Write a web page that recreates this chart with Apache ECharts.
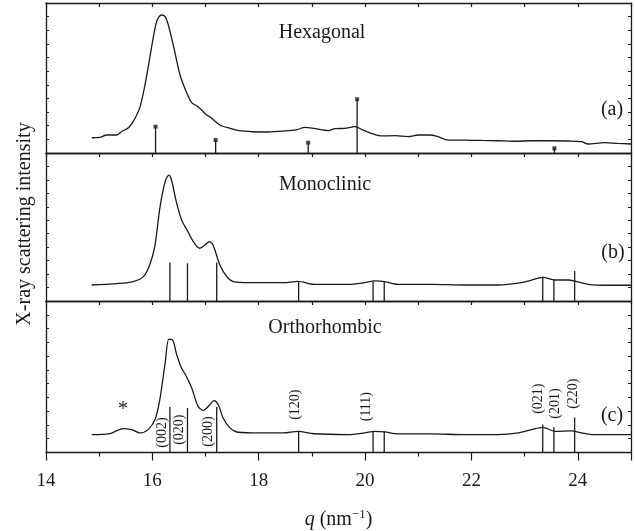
<!DOCTYPE html>
<head>
    <meta charset="utf-8">
    <title>XRD panels</title>
    <script src="https://cdn.jsdelivr.net/npm/echarts@6/dist/echarts.min.js"></script>
</head>
<body style="margin:0">
    <div id="main" style="width:635px;height:531px"></div>
    <script type="text/javascript">
    // measured curves, q in nm^-1, intensity in arbitrary units (0-11 per panel)
    var hexQ = [14.86, 15.02, 15.14, 15.33, 15.42, 15.55, 15.64, 15.77, 15.89, 16.02, 16.09, 16.17, 16.24, 16.30, 16.40,
        16.52, 16.65, 16.74, 16.86, 17.02, 17.08, 17.27, 17.46, 17.64, 17.89, 18.14, 18.45, 18.70, 18.87, 19.06,
        19.31, 19.43, 19.62, 19.81, 19.93, 20.12, 20.31, 20.56, 20.81, 21.00, 21.22, 21.37, 21.56, 21.88, 22.19,
        22.50, 22.82, 23.13, 23.44, 23.82, 24.07, 24.19, 24.50, 24.75, 25.00];
    var hexI = [1.12, 1.15, 1.32, 1.32, 1.56, 1.86, 2.30, 3.40, 5.60, 8.53, 9.75, 10.12, 10.00, 9.39, 7.80,
        5.72, 4.38, 3.69, 3.40, 2.79, 2.66, 2.05, 1.81, 1.64, 1.56, 1.54, 1.61, 1.69, 1.88, 1.78,
        1.64, 1.78, 1.81, 1.93, 1.74, 1.44, 1.25, 1.27, 1.20, 1.32, 1.32, 1.20, 0.95, 0.95, 0.92,
        0.90, 0.86, 0.90, 0.90, 0.88, 0.83, 0.66, 0.76, 0.70, 0.66];

    var monoQ = [14.86, 15.33, 15.64, 15.83, 15.95, 16.05, 16.14, 16.24, 16.31, 16.36, 16.45, 16.55, 16.67, 16.77,
        16.89, 16.99, 17.07, 17.14, 17.27, 17.40, 17.52, 17.83, 18.46, 18.74, 19.04, 19.68, 19.99, 20.18,
        20.37, 20.62, 21.25, 21.88, 22.50, 22.94, 23.13, 23.34, 23.57, 23.82, 23.98, 24.19, 24.57, 25.00];
    var monoI = [1.19, 1.29, 1.44, 1.81, 2.68, 4.16, 6.89, 8.87, 9.36, 8.99, 7.38, 6.02, 5.15, 4.41,
        3.92, 4.16, 4.41, 4.16, 2.68, 1.81, 1.44, 1.36, 1.36, 1.46, 1.24, 1.24, 1.36, 1.49,
        1.44, 1.24, 1.24, 1.19, 1.19, 1.36, 1.56, 1.76, 1.56, 1.56, 1.44, 1.24, 1.17, 1.17];

    var orthoQ = [14.86, 15.20, 15.45, 15.61, 15.77, 15.92, 16.05, 16.14, 16.24, 16.31, 16.38, 16.45, 16.54, 16.64,
        16.74, 16.86, 16.96, 17.08, 17.16, 17.24, 17.33, 17.46, 17.61, 18.02, 18.46, 18.74, 19.04, 19.68,
        19.99, 20.18, 20.37, 20.62, 21.25, 21.88, 22.50, 22.88, 23.13, 23.34, 23.57, 23.88, 24.07, 24.26, 25.00];
    var orthoI = [1.30, 1.37, 1.74, 1.66, 1.42, 1.66, 2.39, 3.84, 6.49, 8.23, 8.18, 7.22, 6.20, 5.52,
        4.68, 3.35, 3.06, 3.47, 3.76, 3.47, 2.51, 1.79, 1.47, 1.42, 1.42, 1.54, 1.36, 1.30,
        1.42, 1.54, 1.50, 1.35, 1.35, 1.30, 1.30, 1.42, 1.66, 1.83, 1.54, 1.57, 1.42, 1.30, 1.30];

    // reflection sticks
    var hexStickQ = [16.06, 17.19, 18.93, 19.85, 23.56];
    var hexStickI = [1.93, 0.95, 0.76, 3.94, 0.34];
    var monoStickQ = [16.33, 16.66, 17.21, 18.75, 20.15, 20.36, 23.34, 23.55, 23.94];
    var monoStickI = [2.87, 2.80, 2.87, 1.44, 1.44, 1.44, 1.81, 1.56, 2.23];
    var orthoStickQ = [16.33, 16.66, 17.21, 18.75, 20.15, 20.36, 23.34, 23.55, 23.94];
    var orthoStickI = [3.31, 3.23, 3.31, 1.54, 1.54, 1.54, 2.03, 1.83, 2.55];

    // Miller index labels (rotated), placed at q / intensity of label centre
    var hklText = ['(002)', '(020)', '(200)', '(120)', '(111)', '(021)', '(201)', '(220)'];
    var hklQ = [16.18, 16.50, 17.06, 18.68, 20.03, 23.25, 23.57, 23.91];
    var hklI = [1.45, 1.66, 1.52, 3.47, 3.33, 3.91, 3.55, 4.27];

    var xTicks = [14, 16, 18, 20, 22, 24];

    var FONT = '"Liberation Serif", "DejaVu Serif", serif';
    var INK = '#1a1a1a';

    function zip(a, b) {
        return a.map(function (v, i) { return [v, b[i]]; });
    }

    function stickItem(params, api) {
        var top = api.coord([api.value(0), api.value(1)]);
        var base = api.coord([api.value(0), 0]);
        return {
            type: 'line',
            shape: {x1: base[0], y1: base[1], x2: top[0], y2: top[1]},
            style: {stroke: INK, lineWidth: 1.3}
        };
    }

    function hklItem(params, api) {
        var p = api.coord([api.value(0), api.value(1)]);
        return {
            type: 'text',
            x: p[0], y: p[1],
            rotation: Math.PI / 2,
            style: {
                text: hklText[params.dataIndex],
                font: '14px ' + FONT,
                fill: INK,
                align: 'center',
                verticalAlign: 'middle'
            }
        };
    }

    var grids = [
        {left: 46, right: 4, top: 3, height: 150},
        {left: 46, right: 4, top: 153, height: 148},
        {left: 46, right: 4, top: 301, height: 152}
    ];

    var xAxes = [];
    var yAxes = [];
    grids.forEach(function (g, i) {
        var last = i === 2;
        // bottom axis
        xAxes.push({
            type: 'value', gridIndex: i, position: 'bottom', min: 14, max: 25, interval: 2,
            axisLine: {show: true, onZero: false, lineStyle: {color: INK, width: 1.3}},
            axisTick: {show: last, inside: false, length: 8, lineStyle: {color: INK, width: 1.2}},
            minorTick: {show: last, splitNumber: 2, length: 4, lineStyle: {color: INK, width: 1.2}},
            axisLabel: {show: last, showMaxLabel: false, color: INK, fontFamily: FONT, fontSize: 19, margin: 19,
                formatter: function (v) { return xTicks.indexOf(v) >= 0 ? String(v) : ''; }},
            splitLine: {show: false},
            name: last ? '{i|q} (nm{s|\u22121})' : '',
            nameLocation: 'middle', nameGap: 56,
            nameTextStyle: {color: INK, fontFamily: FONT, fontSize: 20,
                rich: {
                    i: {fontStyle: 'italic', fontFamily: FONT, fontSize: 20, color: INK},
                    s: {fontFamily: FONT, fontSize: 13, color: INK, verticalAlign: 'top', padding: [0, 0, 10, 0]}
                }}
        });
        // top axis, ticks pointing into the panel
        xAxes.push({
            type: 'value', gridIndex: i, position: 'top', min: 14, max: 25, interval: 1,
            axisLine: {show: true, onZero: false, lineStyle: {color: INK, width: 1.3}},
            axisTick: {show: true, inside: true, length: 4, lineStyle: {color: INK, width: 1.2}},
            axisLabel: {show: false},
            splitLine: {show: false}
        });
        ['left', 'right'].forEach(function (pos) {
            yAxes.push({
                type: 'value', gridIndex: i, position: pos, min: 0, max: 11, interval: 1,
                axisLine: {show: true, onZero: false, lineStyle: {color: INK, width: 1.3}},
                axisTick: {show: true, inside: true, length: 3, lineStyle: {color: INK, width: 1}},
                axisLabel: {show: false},
                splitLine: {show: false}
            });
        });
    });

    function curve(q, v, gi) {
        return {
            type: 'line', xAxisIndex: gi * 2, yAxisIndex: gi * 2, data: zip(q, v),
            showSymbol: false, smooth: 0.3, silent: true,
            lineStyle: {color: INK, width: 1.3}
        };
    }
    function sticks(q, v, gi) {
        return {
            type: 'custom', xAxisIndex: gi * 2, yAxisIndex: gi * 2, data: zip(q, v),
            renderItem: stickItem, encode: {x: 0, y: 1}, silent: true
        };
    }

    var myChart = echarts.init(document.getElementById('main'));
    myChart.setOption({
        animation: false,
        backgroundColor: '#fff',
        grid: grids,
        xAxis: xAxes,
        yAxis: yAxes,
        series: [
            curve(hexQ, hexI, 0),
            sticks(hexStickQ, hexStickI, 0),
            {
                type: 'scatter', xAxisIndex: 0, yAxisIndex: 0, data: zip(hexStickQ, hexStickI),
                symbol: 'rect', symbolSize: 4, itemStyle: {color: INK}, silent: true
            },
            curve(monoQ, monoI, 1),
            sticks(monoStickQ, monoStickI, 1),
            curve(orthoQ, orthoI, 2),
            sticks(orthoStickQ, orthoStickI, 2),
            {
                type: 'custom', xAxisIndex: 4, yAxisIndex: 4, data: zip(hklQ, hklI),
                renderItem: hklItem, encode: {x: 0, y: 1}, silent: true
            }
        ],
        graphic: [
            {type: 'text', x: 322, y: 33, style: {text: 'Hexagonal', font: '20px ' + FONT, fill: INK, align: 'center', verticalAlign: 'middle'}},
            {type: 'text', x: 325, y: 185, style: {text: 'Monoclinic', font: '20px ' + FONT, fill: INK, align: 'center', verticalAlign: 'middle'}},
            {type: 'text', x: 325, y: 328, style: {text: 'Orthorhombic', font: '20px ' + FONT, fill: INK, align: 'center', verticalAlign: 'middle'}},
            {type: 'text', x: 612, y: 110, style: {text: '(a)', font: '20px ' + FONT, fill: INK, align: 'center', verticalAlign: 'middle'}},
            {type: 'text', x: 613, y: 253, style: {text: '(b)', font: '20px ' + FONT, fill: INK, align: 'center', verticalAlign: 'middle'}},
            {type: 'text', x: 612, y: 416, style: {text: '(c)', font: '20px ' + FONT, fill: INK, align: 'center', verticalAlign: 'middle'}},
            {type: 'text', x: 123, y: 410, style: {text: '*', font: '20px ' + FONT, fill: INK, align: 'center', verticalAlign: 'middle'}},
            {type: 'text', x: 25, y: 224, rotation: Math.PI / 2,
                style: {text: 'X-ray scattering intensity', font: '20px ' + FONT, fill: INK, align: 'center', verticalAlign: 'middle'}}
        ]
    });
    </script>
</body>
